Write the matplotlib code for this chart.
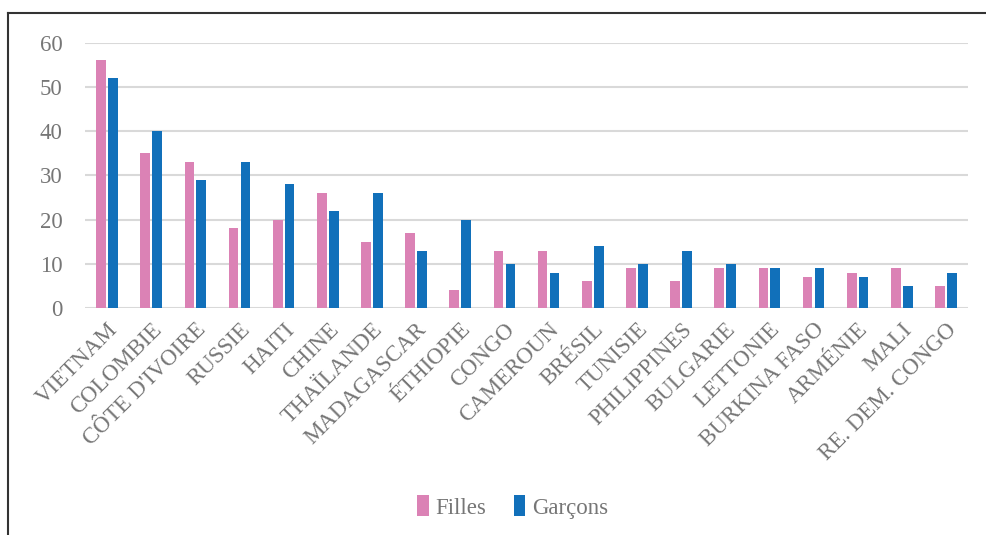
import numpy as np
import matplotlib.pyplot as plt
from matplotlib.lines import Line2D

# Données
pays = ["VIETNAM", "COLOMBIE", "CÔTE D'IVOIRE", "RUSSIE", "HAITI", "CHINE",
        "THAÏLANDE", "MADAGASCAR", "ÉTHIOPIE", "CONGO", "CAMEROUN", "BRÉSIL",
        "TUNISIE", "PHILIPPINES", "BULGARIE", "LETTONIE", "BURKINA FASO",
        "ARMÉNIE", "MALI", "RE. DEM. CONGO"]

filles = [56, 35, 33, 18, 20, 26, 15, 17, 4, 13, 13, 6, 9, 6, 9, 9, 7, 8, 9, 5]
garcons = [52, 40, 29, 33, 28, 22, 26, 13, 20, 10, 8, 14, 10, 13, 10, 9, 9, 7, 5, 8]

plt.rcParams['font.family'] = ['Liberation Serif', 'DejaVu Serif']

fig = plt.figure(figsize=(9.86, 5.35), dpi=100)
ax = fig.add_axes([85/986, 1 - 308/535, 883/986, (308 - 42.7)/535])

x = np.arange(len(pays))
w = 0.22
ax.bar(x - 0.135, filles, w, color='#DB82B5', label='Filles', zorder=3)
ax.bar(x + 0.135, garcons, w, color='#1170BA', label='Garçons', zorder=3)

ax.set_xlim(-0.5, len(pays) - 0.5)
ax.set_ylim(0, 60)
ax.set_yticks(range(0, 61, 10))
ax.yaxis.grid(True, color='#d9d9d9', linewidth=1.5, zorder=0)
ax.set_axisbelow(True)

for s in ax.spines.values():
    s.set_visible(False)
ax.tick_params(axis='both', length=0, colors='#767676', labelsize=16.5)
ax.tick_params(axis='y', pad=16)
ax.tick_params(axis='x', pad=8)

ax.set_xticks(x)
ax.set_xticklabels(pays, rotation=45, ha='right', rotation_mode='anchor',
                   fontsize=16.5, color='#767676')

leg = fig.legend(loc='center', bbox_to_anchor=(0.52, 1 - 507/535), ncol=2,
                 frameon=False, fontsize=16.5, handlelength=0.5, handleheight=1.0,
                 handletextpad=0.3, columnspacing=1.2)
for t in leg.get_texts():
    t.set_color('#767676')

# cadre
fig.add_artist(Line2D([8/986, 8/986], [0, 1 - 13/535], color='#333333', linewidth=1.5))
fig.add_artist(Line2D([8/986, 1], [1 - 13/535, 1 - 13/535], color='#333333', linewidth=1.5))

fig.savefig('out.png', dpi=100)
